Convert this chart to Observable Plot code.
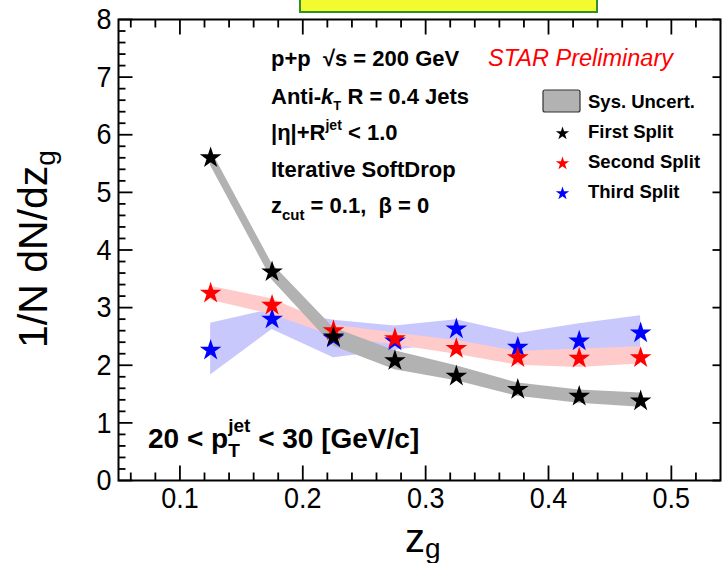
<!DOCTYPE html>
<html>
<head>
<meta charset="utf-8">
<script src="https://cdn.jsdelivr.net/npm/d3@7"></script>
<script src="https://cdn.jsdelivr.net/npm/@observablehq/plot@0.6"></script>
<style>
  body { margin: 0; background: #fff; }
  #chart svg { display: block; }
</style>
</head>
<body>
<div id="chart"></div>
<script>
// ---- data ----
const zg = [0.125, 0.175, 0.225, 0.275, 0.325, 0.375, 0.425, 0.475];

const firstSplit     = [5.60, 3.62, 2.49, 2.08, 1.81, 1.58, 1.46, 1.38];
const firstSysLow    = [5.46, 3.48, 2.33, 1.92, 1.73, 1.46, 1.34, 1.27];
const firstSysHigh   = [5.74, 3.76, 2.65, 2.25, 1.99, 1.69, 1.57, 1.52];

const secondSplit    = [3.25, 3.04, 2.60, 2.46, 2.29, 2.13, 2.12, 2.13];
const secondSysLow   = [3.13, 2.88, 2.50, 2.35, 2.19, 2.00, 1.96, 2.02];
const secondSysHigh  = [3.37, 3.15, 2.70, 2.56, 2.43, 2.24, 2.28, 2.32];

const thirdSplit     = [2.26, 2.80, 2.47, 2.42, 2.63, 2.31, 2.42, 2.56];
const thirdSysLow    = [1.83, 2.62, 2.13, 2.26, 2.40, 2.02, 2.10, 2.28];
const thirdSysHigh   = [2.73, 2.97, 2.78, 2.68, 2.79, 2.55, 2.72, 2.86];

const seriesNames = ["First Split", "Second Split", "Third Split"];
const xTickLabels = [0.1, 0.2, 0.3, 0.4, 0.5];
const yTickLabels = [0, 1, 2, 3, 4, 5, 6, 7, 8];

// ---- styles ----
const FONT = '"Liberation Sans", Arial, Helvetica, sans-serif';
const markerColor = {"First Split": "#000000", "Second Split": "#ff0000", "Third Split": "#0000ff"};
const bandColor   = {"First Split": "#b2b2b2", "Second Split": "#ffcaca", "Third Split": "#c8c8fc"};

function table(name, vals, lo, hi) {
  return zg.map((x, i) => ({series: name, zg: x, value: vals[i], lo: lo[i], hi: hi[i]}));
}
const rowsFirst  = table(seriesNames[0], firstSplit,  firstSysLow,  firstSysHigh);
const rowsSecond = table(seriesNames[1], secondSplit, secondSysLow, secondSysHigh);
const rowsThird  = table(seriesNames[2], thirdSplit,  thirdSysLow,  thirdSysHigh);

const xMinor = d3.range(3, 27).filter(i => i % 5 !== 0).map(i => i * 0.02);
const yMinor = d3.range(1, 40).filter(i => i % 5 !== 0).map(i => i * 0.2);

const tickLine = {draw(ctx, l) { ctx.moveTo(0, 0); ctx.lineTo(0, -l); }};
function ticks(values, dim, anchor, rotate, length) {
  const o = {frameAnchor: anchor, rotate, length, anchor: "start", shape: tickLine,
             stroke: "black", strokeWidth: 1.8, strokeLinecap: "butt"};
  o[dim] = d => d;
  return Plot.vector(values, o);
}

const legendOrder = [seriesNames[0], seriesNames[1], seriesNames[2]];

const plot = Plot.plot({
  width: 722,
  height: 563,
  marginLeft: 118,
  marginRight: 2,
  marginTop: 19,
  marginBottom: 83,
  style: {fontFamily: FONT, background: "white", color: "black"},
  x: {domain: [0.05, 0.54]},
  y: {domain: [0, 8]},
  marks: [
    Plot.areaY(rowsThird,  {x: "zg", y1: "lo", y2: "hi", fill: bandColor[seriesNames[2]]}),
    Plot.areaY(rowsSecond, {x: "zg", y1: "lo", y2: "hi", fill: bandColor[seriesNames[1]]}),
    Plot.areaY(rowsFirst,  {x: "zg", y1: "lo", y2: "hi", fill: bandColor[seriesNames[0]]}),
    Plot.dot(rowsThird,  {x: "zg", y: "value", symbol: "star", r: 6.8, fill: markerColor[seriesNames[2]]}),
    Plot.dot(rowsSecond, {x: "zg", y: "value", symbol: "star", r: 6.8, fill: markerColor[seriesNames[1]]}),
    Plot.dot(rowsFirst,  {x: "zg", y: "value", symbol: "star", r: 6.8, fill: markerColor[seriesNames[0]]}),
    // tick marks (inward, ROOT style)
    ticks(xTickLabels, "x", "bottom", 0, 15),
    ticks(xMinor, "x", "bottom", 0, 8),
    ticks(xTickLabels, "x", "top", 180, 15),
    ticks(xMinor, "x", "top", 180, 8),
    ticks(yTickLabels, "y", "left", 90, 14),
    ticks(yMinor, "y", "left", 90, 7),
    ticks(yTickLabels, "y", "right", -90, 8),
    Plot.frame({stroke: "black", strokeWidth: 2}),
    Plot.axisX({ticks: xTickLabels, tickSize: 0, tickPadding: 6, tickFormat: d3.format(".1f"), fontSize: 27, label: null}),
    Plot.axisY({ticks: yTickLabels, tickSize: 0, tickPadding: 7, tickFormat: d3.format("d"), fontSize: 27, label: null}),
    // legend markers
    ...legendOrder.map((s, i) => Plot.dot([s], {frameAnchor: "top-left", dx: 444, dy: 114 + 30 * i,
       symbol: "star", r: 4.2, fill: markerColor[s]}))
  ]
});
document.getElementById("chart").appendChild(plot);

const svg = d3.select(plot);

// stretch axis tick labels slightly vertically like the reference
svg.selectAll('g[aria-label="x-axis tick label"] text, g[aria-label="y-axis tick label"] text')
  .each(function() {
    const t = this.getAttribute("transform") || "";
    this.setAttribute("transform", t + " scale(1,1.12)");
  });

// rich text helper: sequential segments with sub/superscripts
function rich(parent, x, y, segs, base) {
  const g = parent.append("g")
    .attr("font-family", FONT)
    .attr("text-anchor", "start")
    .attr("font-weight", base.weight || "normal")
    .attr("fill", base.color || "black");
  let cx = x, held = 0;
  for (const s of segs) {
    const el = g.append("text")
      .attr("text-anchor", "start")
      .attr("x", cx).attr("y", y + (s.dy || 0))
      .attr("font-size", s.size || base.size)
      .attr("font-style", s.italic ? "italic" : null)
      .style("white-space", "pre")
      .text(s.t);
    const w = el.node().getComputedTextLength();
    if (s.hold) { held = w; }
    else { cx += Math.max(w, held); held = 0; }
  }
  return g;
}

// top yellow box
svg.append("rect").attr("x", 300).attr("y", -6).attr("width", 297).attr("height", 18)
  .attr("fill", "#f3fb2e").attr("stroke", "#2f8f2f").attr("stroke-width", 2);

const B = {size: 22, weight: "bold"};
rich(svg, 271, 66, [{t: "p+p  \u221As = 200 GeV"}], B);
rich(svg, 488, 66, [{t: "STAR Preliminary", italic: true}], {size: 23.5, color: "#ff0000"});
rich(svg, 271, 104, [{t: "Anti-"}, {t: "k", italic: true}, {t: "T", size: 13, dy: 6}, {t: " R = 0.4 Jets"}], B);
rich(svg, 271, 140, [{t: "|\u03B7|+R"}, {t: "jet", size: 14, dy: -10}, {t: " < 1.0"}], B);
rich(svg, 271, 177, [{t: "Iterative SoftDrop"}], B);
rich(svg, 271, 213, [{t: "z"}, {t: "cut", size: 15, dy: 7}, {t: " = 0.1,  \u03B2 = 0"}], B);

// legend
svg.append("rect").attr("x", 543).attr("y", 90).attr("width", 37).attr("height", 22).attr("rx", 2)
  .attr("fill", bandColor[seriesNames[0]]).attr("stroke", "#333").attr("stroke-width", 1.2);
const L = {size: 18.5, weight: "bold"};
rich(svg, 588, 108, [{t: "Sys. Uncert."}], L);
legendOrder.forEach((s, i) => rich(svg, 588, 138 + 30 * i, [{t: s}], L));

// jet pT range
rich(svg, 148, 448, [{t: "20 < p"}, {t: "jet", size: 19, dy: -16, hold: true}, {t: "T", size: 19, dy: 9},
  {t: " < 30 [GeV/c]"}], {size: 28, weight: "bold"});

// axis titles
rich(svg, 405, 552, [{t: "z"}, {t: "g", size: 28, dy: 6}], {size: 40});
const yl = svg.append("g").attr("transform", "translate(47,348) rotate(-90)");
rich(yl, 0, 0, [{t: "1/N dN/dz"}, {t: "g", size: 28, dy: 8}], {size: 41});
</script>
</body>
</html>
